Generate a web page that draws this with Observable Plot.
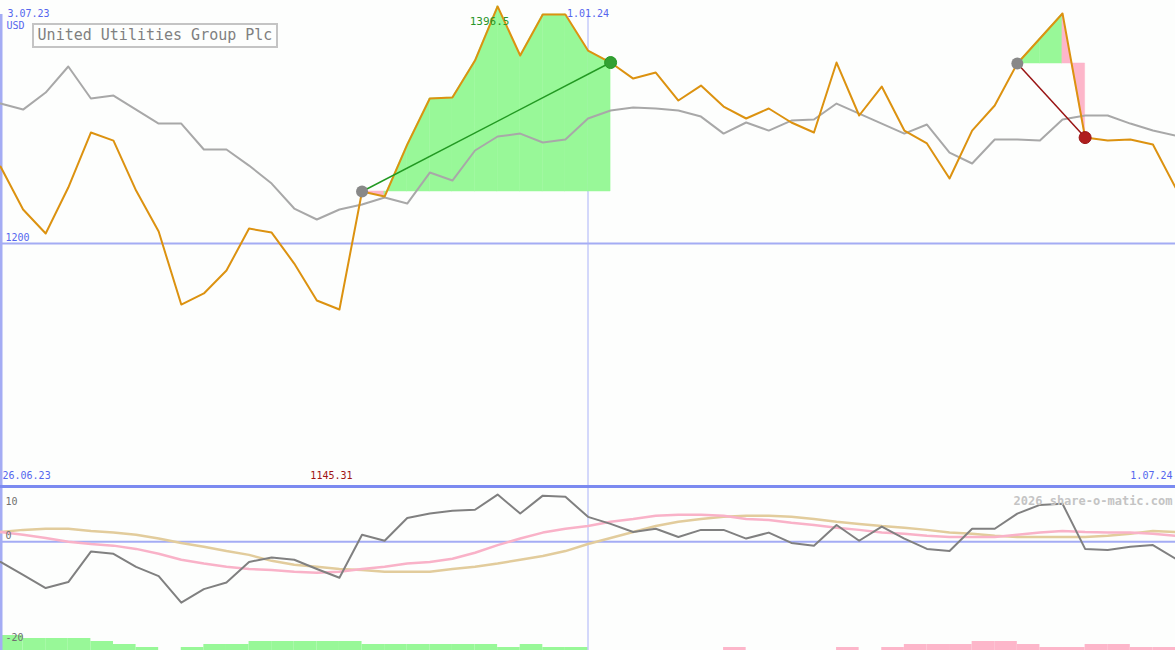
<!DOCTYPE html>
<html><head><meta charset="utf-8">
<script src="https://cdn.jsdelivr.net/npm/d3@7"></script>
<script src="https://cdn.jsdelivr.net/npm/@observablehq/plot@0.6"></script>
<style>
body{margin:0;background:#fdfefd;}
#wrap{position:relative;width:1175px;height:650px;overflow:hidden;background:#fdfefd;font-family:"DejaVu Sans Mono",monospace;}
#main,#sub{position:absolute;left:0;}
#main{top:0}
#sub{top:487px}
#sep{position:absolute;left:0;top:485px;width:1175px;height:3px;background:#7b8af0;}
#title{position:absolute;left:32px;top:23px;width:242px;height:21px;border:2px solid #c4c4c4;background:#fdfefd;color:#808080;font-size:15px;line-height:21px;text-align:center;font-family:"DejaVu Sans Mono",monospace;}
</style></head><body>
<div id="wrap"><div id="main"></div><div id="sub"></div><div id="sep"></div><div id="title">United Utilities Group Plc</div></div>
<script>
const dates = ["2023-07-03","2023-07-10","2023-07-17","2023-07-24","2023-07-31","2023-08-07","2023-08-14","2023-08-21","2023-08-28","2023-09-04","2023-09-11","2023-09-18","2023-09-25","2023-10-02","2023-10-09","2023-10-16","2023-10-23","2023-10-30","2023-11-06","2023-11-13","2023-11-20","2023-11-27","2023-12-04","2023-12-11","2023-12-18","2023-12-25","2024-01-01","2024-01-08","2024-01-15","2024-01-22","2024-01-29","2024-02-05","2024-02-12","2024-02-19","2024-02-26","2024-03-04","2024-03-11","2024-03-18","2024-03-25","2024-04-01","2024-04-08","2024-04-15","2024-04-22","2024-04-29","2024-05-06","2024-05-13","2024-05-20","2024-05-27","2024-06-03","2024-06-10","2024-06-17","2024-06-24","2024-07-01"];
const price = [1263.8,1228.2,1208.3,1246.4,1292.0,1285.3,1243.9,1209.9,1149.4,1158.6,1177.6,1212.4,1209.1,1183.4,1152.8,1145.31,1243.1,1238.9,1282.0,1320.2,1321.0,1351.6,1396.5,1355.8,1389.8,1389.8,1359.9,1350.0,1336.7,1341.7,1318.5,1330.9,1313.5,1303.6,1311.9,1300.3,1292.0,1350.0,1306.1,1330.1,1293.6,1282.9,1253.9,1293.6,1314.4,1349.2,1369.9,1390.6,1287.8,1285.3,1286.2,1282.0,1246.4];
const benchmark = [1316.0,1311.0,1325.1,1346.7,1320.2,1322.6,1311.0,1299.4,1299.4,1277.9,1277.9,1264.6,1249.7,1229.0,1219.9,1228.2,1232.3,1238.1,1233.1,1258.8,1252.2,1277.1,1288.7,1291.1,1283.7,1286.2,1303.6,1310.2,1312.7,1311.9,1310.2,1305.2,1291.1,1300.3,1293.6,1301.9,1302.8,1316.0,1307.7,1299.4,1291.1,1298.6,1275.4,1266.3,1286.2,1286.2,1285.3,1302.8,1306.1,1306.1,1299.4,1293.6,1289.5];
const oscMain = [-3.7,-6.1,-8.5,-7.4,-1.8,-2.2,-4.6,-6.3,-11.2,-8.7,-7.5,-3.7,-2.9,-3.3,-5.0,-6.6,1.3,0.2,4.4,5.2,5.7,5.9,8.7,5.2,8.5,8.3,4.6,3.3,1.8,2.4,0.9,2.2,2.2,0.6,1.7,-0.2,-0.7,3.1,0.2,2.8,0.6,-1.3,-1.7,2.4,2.4,5.2,6.8,7.0,-1.3,-1.5,-0.9,-0.6,-3.1];
const oscPink = [1.8,1.3,0.7,0,-0.4,-0.7,-1.3,-2.2,-3.3,-4.0,-4.6,-5.0,-5.2,-5.5,-5.7,-5.5,-5.0,-4.6,-4.0,-3.7,-3.1,-2.0,-0.6,0.6,1.7,2.4,2.9,3.7,4.2,4.8,5.0,5.0,4.8,4.2,4.0,3.5,3.1,2.6,2.2,1.7,1.5,1.1,0.9,0.9,0.9,1.3,1.7,2.0,1.8,1.7,1.7,1.5,1.1];
const oscTan = [1.8,2.2,2.4,2.4,2.0,1.7,1.3,0.6,-0.2,-0.9,-1.7,-2.4,-3.5,-4.2,-4.6,-5.0,-5.2,-5.5,-5.5,-5.5,-5.0,-4.6,-4.0,-3.3,-2.6,-1.7,-0.4,0.7,1.8,2.9,3.7,4.2,4.6,4.8,4.8,4.6,4.2,3.7,3.3,2.9,2.6,2.2,1.7,1.5,1.1,0.9,0.9,0.9,0.9,1.1,1.5,2.0,1.8];
const barLevels = [5,4,4,4,3,2,1,0,1,2,2,3,3,3,3,3,2,2,2,2,2,2,1,2,1,1,0,0,0,0,0,0,-1,0,0,0,0,-1,0,-1,-2,-2,-2,-3,-3,-2,-1,-1,-2,-2,-1,-1,0];
const trades = [{entry:"2023-10-23", exit:"2024-01-08"}, {entry:"2024-05-13", exit:"2024-06-03"}];
const tickDates = ["2024-01-01"];
const edgeLabels = {topLeft:"2023-07-03", bottomLeft:"2023-06-26", bottomRight:"2024-07-01"};
const unit = "USD";
const priceLevels = [1200];
const oscLabels = [10, 0, -20];

const P = s => new Date(s + "T00:00:00Z");
const fmt = d3.utcFormat("%-d.%m.%y");
const X = dates.map(P);
const rows = X.map((d, i) => ({date: d, price: price[i], bench: benchmark[i], osc: oscMain[i], pink: oscPink[i], tan: oscTan[i]}));
const xs = {type: "utc", domain: [X[0], X[X.length - 1]], range: [0, 1175]};
const GREEN = "#98f898", PINK = "#fdb6ca";
const BLUE_LINE = "#a4acf4", BLUE_TXT = "#5566ee";

// trade fills
const fills = [];
const tradeRows = trades.map((t, ti) => {
  const a = dates.indexOf(t.entry), b = dates.indexOf(t.exit);
  const lvl = price[a];
  for (let k = a; k < b; k++) {
    const col = price[k + 1] >= lvl ? GREEN : PINK;
    fills.push({seg: ti + "-" + k, date: X[k], lo: lvl, hi: price[k], col});
    fills.push({seg: ti + "-" + k, date: X[k + 1], lo: lvl, hi: price[k + 1], col});
  }
  const win = price[b] >= lvl;
  return {d1: X[a], p1: lvl, d2: X[b], p2: price[b], line: win ? "#229922" : "#991414", dot: win ? "#33a033" : "#b01e1e"};
});

const iMax = price.indexOf(d3.max(price)), iMin = price.indexOf(d3.min(price));
const font = "DejaVu Sans Mono, monospace";

const main = Plot.plot({
  width: 1175, height: 487,
  margin: 0,
  x: {...xs, axis: null},
  y: {domain: [997.8, 1401.4], range: [487, 0], axis: null},
  color: {type: "identity"},
  style: {background: "transparent", fontFamily: font, overflow: "visible"},
  marks: [
    Plot.ruleY(priceLevels, {stroke: BLUE_LINE, strokeWidth: 2}),
    Plot.ruleX(tickDates.map(P), {stroke: "#aab2f8", strokeWidth: 1, insetTop: 14}),
    Plot.ruleX([X[0]], {stroke: BLUE_LINE, strokeWidth: 4, insetTop: 14}),
    Plot.areaY(fills, {x: "date", y1: "lo", y2: "hi", z: "seg", fill: "col", stroke: "col", strokeWidth: 0.5}),
    Plot.line(rows, {x: "date", y: "bench", stroke: "#a8a8a8", strokeWidth: 2}),
    Plot.line(rows, {x: "date", y: "price", stroke: "#dc9210", strokeWidth: 2}),
    Plot.link(tradeRows, {x1: "d1", y1: "p1", x2: "d2", y2: "p2", stroke: "line", strokeWidth: 1.5}),
    Plot.dot(tradeRows, {x: "d1", y: "p1", r: 6, fill: "#888888"}),
    Plot.dot(tradeRows, {x: "d2", y: "p2", r: 6, fill: "dot", stroke: "line", strokeWidth: 1}),
    Plot.text(priceLevels, {x: X[0], y: d => d, text: d => String(d), dx: 5, dy: -6, textAnchor: "start", fill: BLUE_TXT, fontSize: 10}),
    Plot.text(tickDates.map(P), {x: d => d, frameAnchor: "top", dy: 9, text: d => fmt(d), fill: BLUE_TXT, fontSize: 10}),
    Plot.text([P(edgeLabels.topLeft)], {x: d => d, frameAnchor: "top", dx: 7, dy: 9, text: d => fmt(d), textAnchor: "start", fill: BLUE_TXT, fontSize: 10}),
    Plot.text([unit], {x: X[0], frameAnchor: "top", dx: 6, dy: 21, text: d => d, textAnchor: "start", fill: BLUE_TXT, fontSize: 10}),
    Plot.text([P(edgeLabels.bottomLeft)], {frameAnchor: "bottom-left", dx: 2, dy: -9, text: d => fmt(d), textAnchor: "start", fill: BLUE_TXT, fontSize: 10}),
    Plot.text([P(edgeLabels.bottomRight)], {frameAnchor: "bottom-right", dx: -3, dy: -9, text: d => fmt(d), textAnchor: "end", fill: BLUE_TXT, fontSize: 10}),
    Plot.text([iMax], {x: i => X[i], y: i => price[i], text: i => String(price[i]), dx: -8, dy: 15, fill: "#2a962a", fontSize: 11}),
    Plot.text([iMin], {x: i => X[i], frameAnchor: "bottom", dx: -8, dy: -9, text: i => String(price[i]), fill: "#a01414", fontSize: 10})
  ]
});
document.getElementById("main").append(main);

const barRows = barLevels.slice(0, -1).map((v, i) => ({d1: X[i], d2: X[i + 1], top: -20 + Math.abs(v) * 0.552, col: v > 0 ? GREEN : PINK})).filter((r, i) => barLevels[i] !== 0);

const sub = Plot.plot({
  width: 1175, height: 163,
  margin: 0,
  x: {...xs, axis: null},
  y: {domain: [-20, 10], range: [163, 0], axis: null},
  color: {type: "identity"},
  style: {background: "transparent", fontFamily: font, overflow: "visible"},
  marks: [
    Plot.rect(barRows, {x1: "d1", x2: "d2", y1: -20, y2: "top", fill: "col"}),
    Plot.ruleY([0], {stroke: BLUE_LINE, strokeWidth: 2}),
    Plot.ruleX(tickDates.map(P), {stroke: "#aab2f8", strokeWidth: 1}),
    Plot.ruleX([X[0]], {stroke: BLUE_LINE, strokeWidth: 4}),
    Plot.line(rows, {x: "date", y: "tan", stroke: "#e2cc9c", strokeWidth: 2.5}),
    Plot.line(rows, {x: "date", y: "pink", stroke: "#f9b2c8", strokeWidth: 2.5}),
    Plot.line(rows, {x: "date", y: "osc", stroke: "#808080", strokeWidth: 2}),
    Plot.text([oscLabels[0]], {frameAnchor: "top-left", dx: 5, dy: 10, text: d => String(d), textAnchor: "start", fill: "#707070", fontSize: 10}),
    Plot.text([oscLabels[1]], {x: X[0], y: d => d, dx: 5, dy: -6, text: d => String(d), textAnchor: "start", fill: "#707070", fontSize: 10}),
    Plot.text([oscLabels[2]], {frameAnchor: "bottom-left", dx: 5, dy: -10, text: d => String(d), textAnchor: "start", fill: "#707070", fontSize: 10}),
    Plot.text(["2026 share-o-matic.com"], {frameAnchor: "top-right", dx: -3, dy: 9, text: d => d, textAnchor: "end", fill: "#c4c4c4", fontSize: 12, fontWeight: "bold"})
  ]
});
document.getElementById("sub").append(sub);
</script>
</body></html>
